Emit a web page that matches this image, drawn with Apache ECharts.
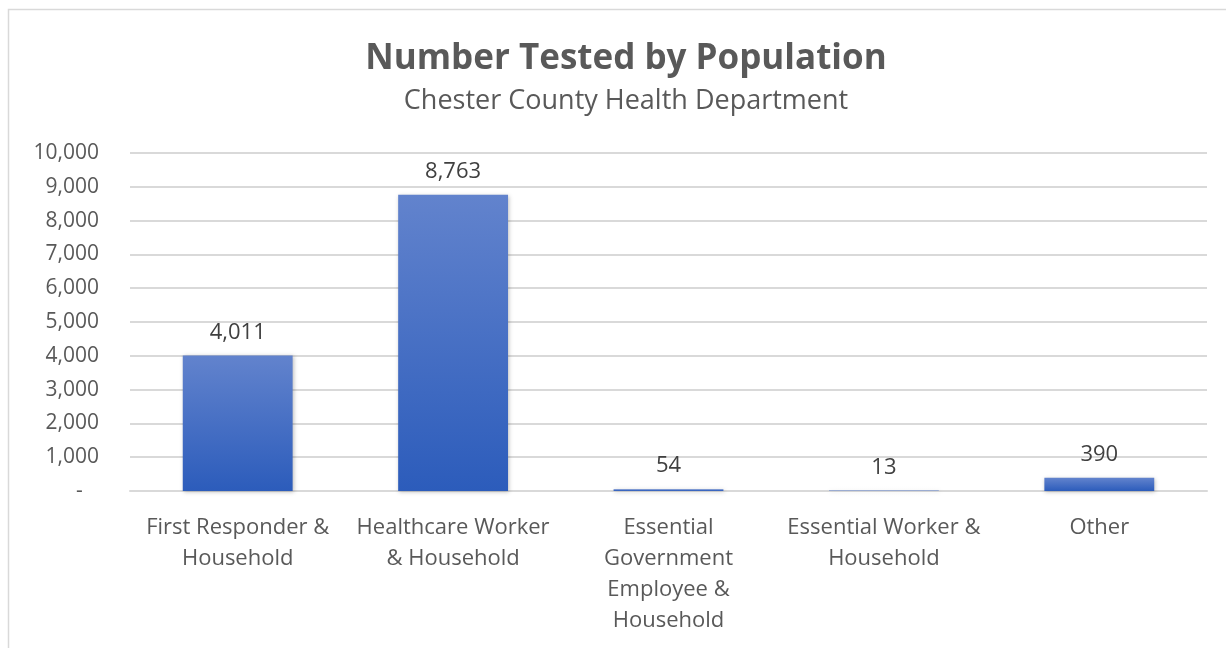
<!DOCTYPE html>
<html>
<head>
<meta charset="utf-8">
<title>Number Tested by Population</title>
<script src="https://cdn.jsdelivr.net/npm/echarts@6/dist/echarts.min.js"></script>
<style>
  html, body { margin: 0; padding: 0; background: #fff; }
  #chart { width: 1226px; height: 648px; }
</style>
</head>
<body>
<div id="chart"></div>
<script>
// data
const categories = [
  'First Responder &\nHousehold',
  'Healthcare Worker\n& Household',
  'Essential\nGovernment\nEmployee &\nHousehold',
  'Essential Worker &\nHousehold',
  'Other',
];
const tested = [4011, 8763, 54, 13, 390];
const yTickLabels = ['-   ', '1,000', '2,000', '3,000', '4,000', '5,000', '6,000', '7,000', '8,000', '9,000', '10,000'];

const font = '"Open Sans", "Noto Sans", sans-serif';
const chart = echarts.init(document.getElementById('chart'));

chart.setOption({
  backgroundColor: '#fff',
  animation: false,
  title: {
    text: 'Number Tested by Population',
    subtext: 'Chester County Health Department',
    left: 621,
    top: 37,
    textAlign: 'center',
    itemGap: 11,
    textStyle: { fontFamily: font, fontSize: 35, fontWeight: 'bold', color: '#595959' },
    subtextStyle: { fontFamily: font, fontSize: 27, color: '#595959' },
  },
  graphic: [
    {
      type: 'rect',
      shape: { x: 8.5, y: 9.5, width: 1400, height: 800 },
      style: { fill: 'none', stroke: '#d9d9d9', lineWidth: 1.5 },
      silent: true,
    },
  ],
  grid: { left: 130, right: 19, top: 153, bottom: 157 },
  xAxis: {
    type: 'category',
    data: categories,
    axisLine: { lineStyle: { color: '#d9d9d9', width: 2 } },
    axisTick: { show: false },
    axisLabel: {
      interval: 0,
      margin: 21,
      color: '#595959',
      fontFamily: font,
      fontSize: 22,
      lineHeight: 31,
    },
  },
  yAxis: {
    type: 'value',
    min: 0,
    max: 10000,
    interval: 1000,
    axisLine: { show: false },
    axisTick: { show: false },
    splitLine: { lineStyle: { color: '#d9d9d9', width: 2 } },
    axisLabel: {
      margin: 31,
      color: '#595959',
      fontFamily: font,
      fontSize: 21,
      formatter: (value, index) => yTickLabels[index],
    },
  },
  series: [
    {
      name: 'Number Tested',
      type: 'bar',
      data: tested,
      barWidth: '51%',
      itemStyle: {
        color: new echarts.graphic.LinearGradient(0, 0, 0, 1, [
          { offset: 0, color: '#6283cd' },
          { offset: 1, color: '#2c5cbb' },
        ]),
        shadowColor: 'rgba(0,0,0,0.25)',
        shadowBlur: 4,
        shadowOffsetX: 1,
        shadowOffsetY: 1,
      },
      label: {
        show: true,
        position: 'top',
        distance: 12,
        color: '#404040',
        fontFamily: font,
        fontSize: 22,
        formatter: (p) => p.value.toLocaleString('en-US'),
      },
    },
  ],
});

window.addEventListener('resize', () => chart.resize());
</script>
</body>
</html>
